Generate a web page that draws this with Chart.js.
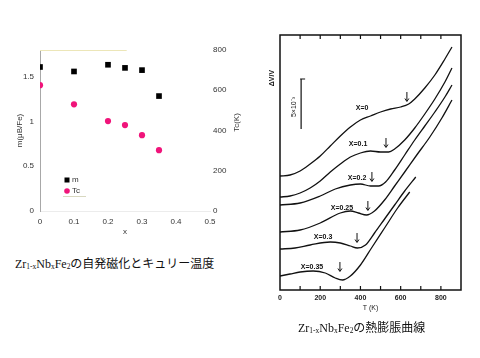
<!DOCTYPE html>
<html><head><meta charset="utf-8">
<script src="https://cdn.jsdelivr.net/npm/chart.js@4"></script>
<style>
body{margin:0;background:#fff;width:480px;height:358px;overflow:hidden;position:relative;}
#c1{position:absolute;left:0;top:0;}
#c2{position:absolute;left:250px;top:0;}
.cap{position:absolute;white-space:nowrap;color:#111;line-height:14px;}
.lat{font-family:"Liberation Serif","Times New Roman",serif;}
.jp{font-family:"Noto Sans CJK JP",sans-serif;}
sub{font-size:62%;vertical-align:-0.2em;line-height:0;}
</style></head>
<body>
<canvas id="c1" width="250" height="250"></canvas>
<canvas id="c2" width="230" height="320"></canvas>
<div class="cap" style="left:15px;top:256px;font-size:12px;"><span class="lat">Zr<sub>1-x</sub>Nb<sub>x</sub>Fe<sub>2</sub></span><span class="jp">の自発磁化とキュリー温度</span></div>
<div class="cap" style="left:298px;top:320px;font-size:12px;"><span class="lat">Zr<sub>1-x</sub>Nb<sub>x</sub>Fe<sub>2</sub></span><span class="jp">の熱膨脹曲線</span></div>
<script>
// ---------- left chart data ----------
const compX   = [0, 0.1, 0.2, 0.25, 0.3, 0.35];
const magM    = [1.61, 1.56, 1.635, 1.60, 1.575, 1.285];
const curieTc = [625, 530, 447, 427, 377, 302];
const xTicksL = [0, 0.1, 0.2, 0.3, 0.4, 0.5];
const mTicks  = [0, 0.5, 1, 1.5];
const tcTicks = [0, 200, 400, 600, 800];

// ---------- right chart data (dV/V in 1e-3, offset curves) ----------
const t0 = [0,50,100,150,200,250,300,350,400,450,500,550,600,640,670,720,770,820,855];
const v0 = [11.4,11.5,11.9,12.6,13.4,14.4,15.4,16.3,17.0,17.4,17.8,18.1,18.3,18.6,19.1,20.2,21.5,23.1,24.3];
const t1 = [0,50,100,150,200,250,300,350,400,450,500,540,570,620,670,720,770,820,855];
const v1 = [9.3,9.4,9.7,10.2,10.9,11.8,12.6,13.3,13.7,13.9,13.8,13.8,14.1,15.0,16.2,17.6,19.1,20.8,22.2];
const t2 = [0,100,200,275,350,400,450,490,525,570,620,670,720,770,820,855];
const v2 = [8.5,8.7,9.4,10.1,10.5,10.6,10.4,10.4,10.8,12.0,13.5,15.0,16.4,17.8,19.3,20.5];
const t3 = [0,100,200,300,350,390,430,470,520,570,620,680,745,805,855];
const v3 = [5.8,6.0,6.7,7.7,7.9,7.7,7.5,7.9,9.0,10.4,11.8,13.5,15.3,17.2,19.0];
const t4 = [0,75,150,250,300,350,385,425,470,520,570,620,675];
const v4 = [4.1,4.2,4.5,4.8,4.7,4.4,4.2,4.5,5.7,7.1,8.5,9.9,11.3];
const t5 = [0,50,100,165,225,275,310,350,400,455,520,585,645];
const v5 = [1.4,1.6,1.8,1.9,1.7,1.2,1.0,1.4,2.5,4.2,6.2,8.2,9.8];
const curveLabels = ['X=0','X=0.1','X=0.2','X=0.25','X=0.3','X=0.35'];
const labelT = [408,388,383,308,214,159];
const labelV = [18.2,14.6,11.2,8.2,5.3,2.3];
const arrowT = [631,527,457,437,383,298];
const arrowV = [19.3,14.7,11.3,8.4,5.2,2.3];
const tTicks = [0,200,400,600,800];

const F = '"Liberation Sans", Arial, sans-serif';

// ---------- left chart ----------
const legendPlugin = {
  id:'legendL',
  afterDatasetsDraw(chart){
    const {ctx, chartArea:a} = chart;
    const lx = a.left + 27, ly = a.top + 130;
    ctx.save();
    ctx.fillStyle = '#000';
    ctx.fillRect(lx-2.5, ly-2.5, 5, 5);
    ctx.fillStyle = '#f0147a';
    ctx.beginPath(); ctx.arc(lx, ly+11, 2.8, 0, Math.PI*2); ctx.fill();
    ctx.fillStyle = '#333';
    ctx.font = '8px ' + F;
    ctx.textBaseline = 'middle';
    ctx.fillText('m', lx+5, ly);
    ctx.fillText('Tc', lx+5, ly+11);
    ctx.strokeStyle = '#d8d8c0'; ctx.lineWidth = 1;
    ctx.beginPath(); ctx.moveTo(lx-4, ly+16.5); ctx.lineTo(lx+19, ly+16.5); ctx.stroke();
    // faint top rule
    ctx.strokeStyle = '#ece6b8';
    ctx.beginPath(); ctx.moveTo(a.left, a.top+0.5); ctx.lineTo(a.left + (a.right-a.left)*0.51, a.top+0.5); ctx.stroke();
    // right axis title (reads bottom to top)
    ctx.fillStyle = '#333';
    ctx.translate(a.right + 27, (a.top + a.bottom)/2 - 8);
    ctx.rotate(-Math.PI/2);
    ctx.textAlign = 'center';
    ctx.fillText('Tc(K)', 0, 0);
    ctx.restore();
  }
};

new Chart(document.getElementById('c1'), {
  type:'scatter',
  data:{datasets:[
    {label:'m', data: compX.map((x,i)=>({x, y: magM[i]})), yAxisID:'y',
     pointStyle:'rect', pointRadius:4, pointHoverRadius:4, backgroundColor:'#000', borderColor:'#000', borderWidth:0},
    {label:'Tc', data: compX.map((x,i)=>({x, y: curieTc[i]})), yAxisID:'y2',
     pointStyle:'circle', pointRadius:3.1, pointHoverRadius:3.1, backgroundColor:'#f0147a', borderColor:'#f0147a', borderWidth:0}
  ]},
  options:{
    responsive:false, animation:false, devicePixelRatio:1,
    layout:{padding:{top:50,left:0,right:0,bottom:0}},
    plugins:{legend:{display:false}, tooltip:{enabled:false}},
    scales:{
      x:{type:'linear', min:0, max:0.5,
         afterBuildTicks:s=>{s.ticks = xTicksL.map(v=>({value:v}));},
         afterFit:s=>{s.height = 39;},
         grid:{display:false, drawTicks:false},
         border:{display:true, color:'#ececec', width:1},
         ticks:{padding:6, color:'#333', font:{family:F, size:8}, maxRotation:0, callback:v=>String(v)},
         title:{display:true, text:'x', color:'#333', font:{family:F, size:8}, padding:{top:0,bottom:13}}},
      y:{type:'linear', position:'left', min:0, max:1.8,
         afterBuildTicks:s=>{s.ticks = mTicks.map(v=>({value:v}));},
         afterFit:s=>{s.width = 40;},
         grid:{display:false, drawTicks:false},
         border:{display:true, color:'#a8a8a8', width:1},
         ticks:{padding:6, color:'#333', font:{family:F, size:8}, callback:v=>String(v)},
         title:{display:true, text:'m(μB/Fe)', color:'#333', font:{family:F, size:8}, padding:{top:15,bottom:0}}},
      y2:{type:'linear', position:'right', min:0, max:800,
         afterBuildTicks:s=>{s.ticks = tcTicks.map(v=>({value:v}));},
         afterFit:s=>{s.width = 40;},
         grid:{display:false, drawTicks:false},
         border:{display:false},
         ticks:{padding:3, color:'#333', font:{family:F, size:8}, callback:v=>String(v)}}
    }
  },
  plugins:[legendPlugin]
});

// ---------- right chart ----------
const curvesT = [t0,t1,t2,t3,t4,t5];
const curvesV = [v0,v1,v2,v3,v4,v5];

const framePlugin = {
  id:'frameR',
  afterDatasetsDraw(chart){
    const {ctx, chartArea:a, scales:{x, y}} = chart;
    ctx.save();
    ctx.strokeStyle = '#111'; ctx.lineWidth = 1.5;
    ctx.strokeRect(a.left, a.top, a.right-a.left, a.bottom-a.top);
    ctx.lineWidth = 1.2;
    for (let t = 100; t < 900; t += 100) {
      const px = x.getPixelForValue(t);
      ctx.beginPath();
      ctx.moveTo(px, a.bottom); ctx.lineTo(px, a.bottom-4);
      ctx.moveTo(px, a.top); ctx.lineTo(px, a.top+4);
      ctx.stroke();
    }
    // scale bar 5e-3
    const bx = x.getPixelForValue(105);
    const by1 = y.getPixelForValue(21.1), by2 = y.getPixelForValue(16.1);
    ctx.lineWidth = 1.2;
    ctx.beginPath();
    ctx.moveTo(bx, by1); ctx.lineTo(bx, by2);
    ctx.moveTo(bx-1, by1); ctx.lineTo(bx+4, by1);
    ctx.stroke();
    ctx.fillStyle = '#111';
    ctx.font = '7px ' + F;
    ctx.textAlign = 'center'; ctx.textBaseline = 'middle';
    ctx.save();
    ctx.translate(bx-7, (by1+by2)/2 + 3);
    ctx.rotate(-Math.PI/2);
    ctx.fillText('5×10⁻³', 0, 0);
    ctx.restore();
    // y title
    ctx.save();
    ctx.translate(a.left-8, y.getPixelForValue(21.2));
    ctx.rotate(-Math.PI/2);
    ctx.font = 'bold 7px ' + F;
    ctx.fillText('ΔV/V', 0, 0);
    ctx.restore();
    // curve labels and arrows
    ctx.font = 'bold 7px ' + F;
    for (let i = 0; i < curveLabels.length; i++) {
      ctx.fillText(curveLabels[i], x.getPixelForValue(labelT[i]), y.getPixelForValue(labelV[i]));
      const ax = x.getPixelForValue(arrowT[i]), ay = y.getPixelForValue(arrowV[i]);
      ctx.beginPath();
      ctx.moveTo(ax, ay-5); ctx.lineTo(ax, ay+4);
      ctx.moveTo(ax-2, ay+1.5); ctx.lineTo(ax, ay+4.5); ctx.lineTo(ax+2, ay+1.5);
      ctx.lineWidth = 1; ctx.stroke();
    }
    ctx.restore();
  }
};

new Chart(document.getElementById('c2'), {
  type:'line',
  data:{datasets: curvesT.map((ts,k)=>({
    data: ts.map((t,i)=>({x:t, y:curvesV[k][i]})),
    borderColor:'#111', borderWidth:1.3, pointRadius:0, fill:false,
    cubicInterpolationMode:'monotone'
  }))},
  options:{
    responsive:false, animation:false, devicePixelRatio:1,
    layout:{padding:{top:35,left:30,right:19,bottom:0}},
    plugins:{legend:{display:false}, tooltip:{enabled:false}},
    scales:{
      x:{type:'linear', min:0, max:900,
         afterBuildTicks:s=>{s.ticks = tTicks.map(v=>({value:v}));},
         afterFit:s=>{s.height = 30;},
         grid:{display:false, drawTicks:false},
         border:{display:false},
         ticks:{padding:4, color:'#222', font:{family:F, size:7, weight:'bold'}, maxRotation:0, callback:v=>String(v)},
         title:{display:true, text:'T (K)', color:'#222', font:{family:F, size:7}, padding:{top:0,bottom:8}}},
      y:{type:'linear', display:false, min:0, max:25.5}
    }
  },
  plugins:[framePlugin]
});
</script>
</body></html>
